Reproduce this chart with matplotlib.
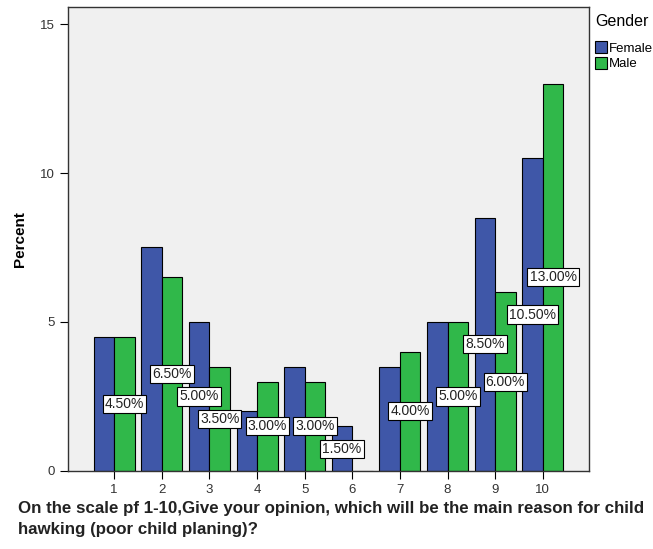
import matplotlib.pyplot as plt
import numpy as np

plt.rcParams["font.family"] = ["Liberation Sans", "DejaVu Sans"]

categories = ["1", "2", "3", "4", "5", "6", "7", "8", "9", "10"]
female = [4.5, 7.5, 5.0, 2.0, 3.5, 1.5, 3.5, 5.0, 8.5, 10.5]
male = [4.5, 6.5, 3.5, 3.0, 3.0, 0.0, 4.0, 5.0, 6.0, 13.0]
# SPSS hides labels that collide; these are the ones left visible
female_label_shown = [False, False, True, False, False, True, False, False, True, True]
male_label_shown = [True, True, True, True, True, False, True, True, True, True]

blue = "#3F57A8"
green = "#30B84A"

fig = plt.figure(figsize=(6.53, 5.49), dpi=100)
ax = fig.add_axes([0.1041, 0.1421, 0.7979, 0.8451])
ax.set_facecolor("#F0F0F0")

x = np.arange(1, len(categories) + 1)
w = 0.43
ax.bar(x - w / 2, female, w, color=blue, edgecolor="black", linewidth=0.8, label="Female", zorder=2)
ax.bar(x + w / 2, male, w, color=green, edgecolor="black", linewidth=0.8, label="Male", zorder=2)

box = dict(boxstyle="square,pad=0.15", facecolor="white", edgecolor="black", linewidth=0.8)
for xs, vals, shown in [(x - w / 2, female, female_label_shown), (x + w / 2, male, male_label_shown)]:
    for xi, v, s in zip(xs, vals, shown):
        if s:
            ax.text(xi, v / 2, f"{v:.2f}%", ha="center", va="center", fontsize=10, bbox=box,
                    color="#222222", zorder=3)

ax.set_xlim(0.03, 10.97)
ax.set_ylim(0, 15.57)
ax.set_xticks(x)
ax.set_xticklabels(categories)
ax.set_yticks([0, 5, 10, 15])
ax.tick_params(axis="both", length=6, width=0.8, labelsize=9.5, colors="black", labelcolor="#333333")
for s in ax.spines.values():
    s.set_linewidth(1.0)
    s.set_color("#333333")

ax.set_ylabel("Percent", fontsize=11, fontweight="bold", labelpad=9)
fig.text(0.027, 0.055, "On the scale pf 1-10,Give your opinion, which will be the main reason for child\n"
         "hawking (poor child planing)?", fontsize=12.2, fontweight="bold", ha="left", va="center",
         linespacing=1.45, color="#222222")

leg = ax.legend(title="Gender", loc="upper left", bbox_to_anchor=(1.012, 0.985), frameon=False,
                fontsize=9.5, title_fontsize=11.5, handlelength=0.9, handleheight=1.0,
                handletextpad=0.15, labelspacing=0.15, borderaxespad=0, borderpad=0)
leg._legend_box.align = "left"
leg._legend_box.sep = 9

fig.savefig("out.png", dpi=100)
